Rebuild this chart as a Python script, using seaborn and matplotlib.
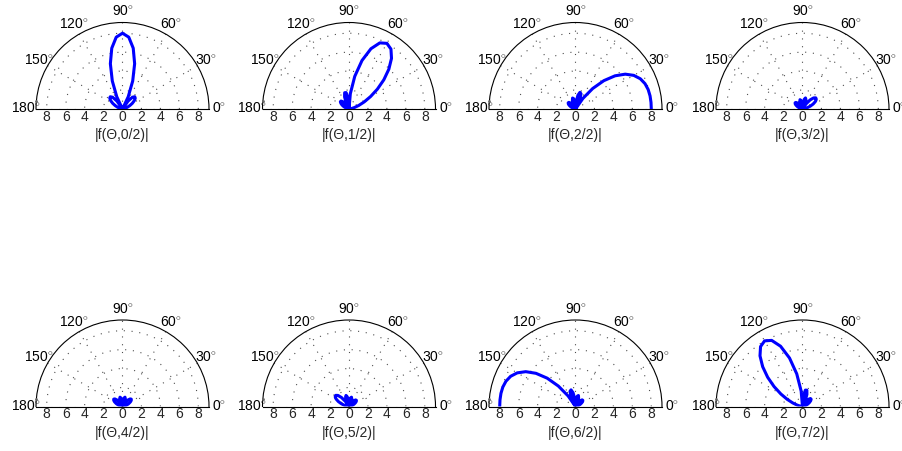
import numpy as np
import pandas as pd
import matplotlib
matplotlib.use("Agg")
import matplotlib.pyplot as plt
import seaborn as sns

# Sampling angles (degrees) of the beam patterns
theta_deg = [0, 5, 10, 15, 20, 25, 30, 35, 40, 45, 50, 55, 60, 65, 70, 75, 80, 85, 90,
             95, 100, 105, 110, 115, 120, 125, 130, 135, 140, 145, 150, 155, 160, 165,
             170, 175, 180]

# |f(theta, m/2)| for beams m = 0..7
f_0 = [0, 0.03, 0.14, 0.31, 0.55, 0.85, 1.19, 1.51, 1.76, 1.83, 1.62, 1.02, 0, 1.43,
       3.15, 4.95, 6.52, 7.61, 8.00, 7.61, 6.52, 4.95, 3.15, 1.43, 0, 1.02, 1.62, 1.83,
       1.76, 1.51, 1.19, 0.85, 0.55, 0.31, 0.14, 0.03, 0]
f_1 = [0, 0.06, 0.26, 0.59, 1.09, 1.77, 2.63, 3.66, 4.80, 5.95, 6.98, 7.72, 8.00, 7.70,
       6.77, 5.30, 3.50, 1.63, 0, 1.17, 1.76, 1.78, 1.36, 0.71, 0, 0.60, 1.00, 1.19,
       1.19, 1.05, 0.85, 0.62, 0.41, 0.23, 0.10, 0.03, 0]
f_2 = [8.00, 8.00, 7.99, 7.94, 7.81, 7.55, 7.10, 6.41, 5.45, 4.23, 2.82, 1.36, 0, 1.07,
       1.70, 1.82, 1.47, 0.79, 0, 0.69, 1.11, 1.20, 0.96, 0.52, 0, 0.47, 0.81, 0.99,
       1.01, 0.92, 0.75, 0.56, 0.37, 0.21, 0.10, 0.02, 0]
f_3 = [0, 0.06, 0.24, 0.52, 0.87, 1.24, 1.56, 1.78, 1.83, 1.65, 1.25, 0.67, 0, 0.62,
       1.06, 1.21, 1.03, 0.58, 0, 0.55, 0.92, 1.02, 0.84, 0.47, 0, 0.45, 0.79, 0.98,
       1.02, 0.94, 0.78, 0.59, 0.39, 0.23, 0.10, 0.03, 0]
f_4 = [0, 0.03, 0.13, 0.29, 0.50, 0.73, 0.96, 1.13, 1.21, 1.13, 0.89, 0.50, 0, 0.49,
       0.87, 1.02, 0.90, 0.52, 0, 0.52, 0.90, 1.02, 0.87, 0.49, 0, 0.50, 0.89, 1.13,
       1.21, 1.13, 0.96, 0.73, 0.50, 0.29, 0.13, 0.03, 0]
f_5 = [0, 0.03, 0.10, 0.23, 0.39, 0.59, 0.78, 0.94, 1.02, 0.98, 0.79, 0.45, 0, 0.47,
       0.84, 1.02, 0.92, 0.55, 0, 0.58, 1.03, 1.21, 1.06, 0.62, 0, 0.67, 1.25, 1.65,
       1.83, 1.78, 1.56, 1.24, 0.87, 0.52, 0.24, 0.06, 0]
f_6 = [0, 0.02, 0.10, 0.21, 0.37, 0.56, 0.75, 0.92, 1.01, 0.99, 0.81, 0.47, 0, 0.52,
       0.96, 1.20, 1.11, 0.69, 0, 0.79, 1.47, 1.82, 1.70, 1.07, 0, 1.36, 2.82, 4.23,
       5.45, 6.41, 7.10, 7.55, 7.81, 7.94, 7.99, 8.00, 8.00]
f_7 = [0, 0.03, 0.10, 0.23, 0.41, 0.62, 0.85, 1.05, 1.19, 1.19, 1.00, 0.60, 0, 0.71,
       1.36, 1.78, 1.76, 1.17, 0, 1.63, 3.50, 5.30, 6.77, 7.70, 8.00, 7.72, 6.98, 5.95,
       4.80, 3.66, 2.63, 1.77, 1.09, 0.59, 0.26, 0.06, 0]

patterns = [f_0, f_1, f_2, f_3, f_4, f_5, f_6, f_7]
beam_labels = ["0/2", "1/2", "2/2", "3/2", "4/2", "5/2", "6/2", "7/2"]

angle_ticks = [0, 30, 60, 90, 120, 150, 180]
ring_radii = [2, 4, 6, 8]
radius_tick_labels = ["8", "6", "4", "2", "0", "2", "4", "6", "8"]
radius_tick_values = [8, 6, 4, 2, 0, 2, 4, 6, 8]
radius_tick_sides = [180, 180, 180, 180, 0, 0, 0, 0, 0]

sns.set_theme(style="white")
plt.rcParams["font.family"] = ["Liberation Sans", "DejaVu Sans"]
plt.rcParams["mathtext.fontset"] = "custom"
plt.rcParams["mathtext.rm"] = "Liberation Sans"
plt.rcParams["mathtext.it"] = "Liberation Sans"

W, H = 903, 451
fig = plt.figure(figsize=(W / 100, H / 100), dpi=100)
fig.patch.set_facecolor("white")

R_MAX = 9.13          # outer circle radius (data units)
R_PX = 86.5           # outer circle radius (pixels)
col_x = [122.5, 349.0, 575.5, 802.5]
row_y = [109.0, 406.5]
FS = 10

for k, (vals, lab) in enumerate(zip(patterns, beam_labels)):
    row, col = divmod(k, 4)
    cx, cy = col_x[col], row_y[row]
    # the half disc sits in the middle band of a square polar box
    rect = [(cx - R_PX) / W, (H - cy - R_PX / 2) / H, 2 * R_PX / W, 2 * R_PX / H]
    ax = fig.add_axes(rect, projection="polar")
    ax.set_thetamin(0)
    ax.set_thetamax(180)
    ax.set_facecolor("white")

    df = pd.DataFrame({"theta": np.deg2rad(theta_deg), "r": vals})
    sns.lineplot(data=df, x="theta", y="r", ax=ax, color=(0, 0, 1),
                 linewidth=2.2, sort=False, estimator=None, zorder=5)
    ax.set_rlim(0, R_MAX)
    ax.set_xlabel("")
    ax.set_ylabel("")

    ax.set_xticks(np.deg2rad(angle_ticks))
    ax.set_yticks(ring_radii)
    ax.set_xticklabels([])
    ax.set_yticklabels([])
    ax.tick_params(length=0, pad=0)
    ax.grid(True, linestyle=(0, (1, 6)), color="0.3", linewidth=0.8)

    for name in ("polar", "start", "end"):
        ax.spines[name].set_color("black")
        ax.spines[name].set_linewidth(0.8)
    if "inner" in ax.spines:
        ax.spines["inner"].set_visible(False)

    ax.plot(np.deg2rad(175), R_MAX, "o", ms=2.0, color="0.4", mew=0,
            clip_on=False, zorder=6)

    # angle labels around the arc
    for a in angle_ticks:
        ax.text(np.deg2rad(a), R_MAX * 1.12, f"{a}$^{{\\circ}}$",
                ha="center", va="center", fontsize=FS, color="black")

    # radial scale written along the baseline
    for txt, rv, side in zip(radius_tick_labels, radius_tick_values, radius_tick_sides):
        ax.annotate(txt, xy=(np.deg2rad(side), rv), xytext=(0, -8),
                    textcoords="offset pixels", ha="center", va="center",
                    fontsize=FS, annotation_clip=False)

    ax.annotate(f"|f(\u0398,{lab})|", xy=(0, 0), xytext=(0, -26),
                textcoords="offset pixels", ha="center", va="center",
                fontsize=FS, annotation_clip=False)

fig.savefig("out.png", dpi=100, facecolor="white")
